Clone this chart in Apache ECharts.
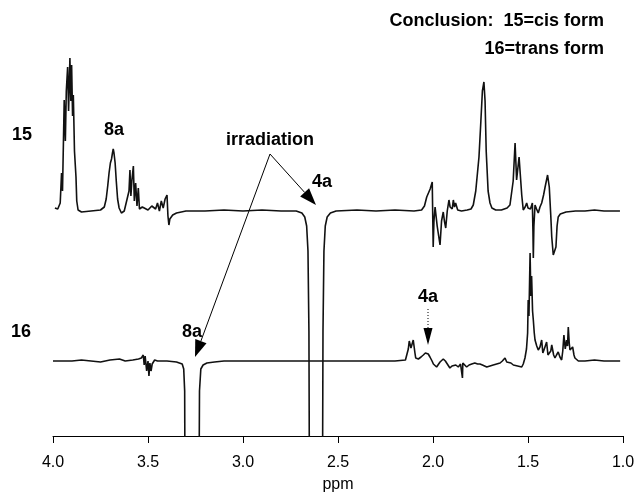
<!DOCTYPE html>
<html>
<head>
<meta charset="utf-8">
<script src="https://cdn.jsdelivr.net/npm/echarts@6/dist/echarts.min.js"></script>
<style>
  html, body { margin: 0; padding: 0; background: #fff; }
  #chart { width: 635px; height: 492px; }
</style>
</head>
<body>
<div id="chart"></div>
<script>
// x ticks (ppm)
const ppmTicks = [4.0, 3.5, 3.0, 2.5, 2.0, 1.5, 1.0]

// trace 15 (cis) : [ppm, intensity relative to its baseline]
const trace15 = [
  [3.99, 3], [3.975, 2], [3.962, 8], [3.955, 38], [3.950, 20], [3.945, 70], [3.941, 111],
  [3.935, 70], [3.930, 120], [3.923, 144], [3.918, 100], [3.911, 153], [3.906, 110],
  [3.902, 146], [3.897, 95], [3.893, 116], [3.887, 60], [3.879, 34], [3.875, 10], [3.868, 1],
  [3.85, -1], [3.80, 0], [3.75, 1], [3.73, 4], [3.72, 12], [3.712, 25], [3.705, 38],
  [3.698, 48], [3.692, 52], [3.687, 58], [3.683, 62], [3.679, 58], [3.673, 48], [3.667, 30],
  [3.66, 12], [3.652, 3], [3.64, -2], [3.625, 0], [3.61, 12],
  [3.60, 20], [3.595, 41], [3.59, 15], [3.585, 30], [3.577, 45], [3.572, 10], [3.565, 28],
  [3.558, 5], [3.551, 23], [3.545, 2], [3.53, 4], [3.50, 1], [3.48, 5], [3.46, 2], [3.45, 8],
  [3.44, 0], [3.43, 10], [3.42, 3], [3.41, 12], [3.40, 16], [3.395, -5], [3.39, -14],
  [3.385, -8], [3.38, -10], [3.37, -4], [3.35, -2], [3.30, 0], [3.2, 0], [3.1, 1], [3.0, 0],
  [2.9, 1], [2.8, 0], [2.72, 0], [2.69, -2], [2.675, -6], [2.665, -15], [2.658, -40],
  [2.653, -120], [2.650, -300], [2.582, -300], [2.579, -120], [2.574, -40], [2.567, -15],
  [2.557, -6], [2.54, -2], [2.51, 0], [2.40, 1], [2.30, 0], [2.20, 1], [2.10, 0], [2.06, 1],
  [2.045, 5], [2.033, 14], [2.015, 22], [2.004, 29], [2.001, -10], [1.999, -36], [1.995, -10],
  [1.989, 4], [1.978, -15], [1.963, -34], [1.955, -10], [1.946, -1], [1.94, -10], [1.933, -17],
  [1.925, 0], [1.916, 11], [1.91, 4], [1.905, 6], [1.899, 2], [1.893, 11], [1.887, 4],
  [1.881, 8], [1.87, 1], [1.85, 0], [1.82, 1], [1.80, 2], [1.788, 6], [1.775, 20], [1.765, 40],
  [1.758, 54], [1.748, 90], [1.740, 120], [1.732, 129], [1.726, 110], [1.720, 60], [1.717, 48],
  [1.710, 20], [1.700, 8], [1.69, 3], [1.67, 1], [1.64, 1], [1.61, 3], [1.595, 6], [1.586, 8],
  [1.578, 30], [1.568, 68], [1.560, 31], [1.547, 54], [1.540, 35], [1.533, 16], [1.525, 1],
  [1.515, 4], [1.507, 8], [1.500, 3], [1.495, 4], [1.487, 2], [1.477, 8], [1.474, -20],
  [1.472, -47], [1.469, -15], [1.463, 6], [1.455, 2], [1.446, -2], [1.437, 4], [1.428, 8],
  [1.418, 16], [1.411, 23], [1.397, 36], [1.388, 24], [1.380, -5], [1.375, -26], [1.367, -44],
  [1.360, -42], [1.353, -36], [1.347, -15], [1.341, -6], [1.330, -3], [1.323, -2], [1.30, -1],
  [1.25, 0], [1.20, 0], [1.15, 1], [1.10, 0], [1.05, 0], [1.016, 0]
]

// trace 16 (trans)
const trace16 = [
  [4.0, 0], [3.9, 0], [3.85, 1], [3.80, 0], [3.75, -1], [3.70, 1], [3.65, 2], [3.62, 0],
  [3.58, 1], [3.55, 2], [3.535, 3], [3.525, 6], [3.52, -4], [3.515, 5], [3.507, -10],
  [3.50, 0], [3.495, -15], [3.49, -2], [3.484, -10], [3.478, -3], [3.475, -4], [3.465, 1],
  [3.45, 0], [3.40, 0], [3.35, -1], [3.32, -3], [3.312, -8], [3.307, -30], [3.305, -150],
  [3.232, -150], [3.229, -30], [3.222, -8], [3.21, -4], [3.19, -2], [3.15, -1], [3.1, 0],
  [3.0, 0], [2.9, 0], [2.8, 0], [2.7, 0], [2.6, 0], [2.5, 0], [2.4, 0], [2.3, 0], [2.2, 0],
  [2.145, 1], [2.138, 1], [2.13, 12], [2.125, 20], [2.116, 13], [2.104, 21], [2.095, 8],
  [2.091, 3], [2.077, 2], [2.063, 4], [2.051, 6], [2.04, 8], [2.033, 9], [2.025, 7],
  [2.016, 4], [2.005, 0], [1.998, -3], [1.981, -6], [1.972, -4], [1.963, -1], [1.946, 2],
  [1.935, 0], [1.928, -2], [1.911, -7], [1.900, -5], [1.893, -5], [1.88, -4], [1.867, -6],
  [1.855, -3], [1.847, -2], [1.845, -17], [1.843, -2], [1.835, -4], [1.823, -6], [1.81, -4],
  [1.796, -3], [1.78, -2], [1.765, -3], [1.753, -3], [1.74, -4], [1.717, -6], [1.70, -5],
  [1.683, -4], [1.665, -3], [1.647, -2], [1.635, 0], [1.621, 3], [1.612, -1], [1.604, 0],
  [1.59, -2], [1.577, -4], [1.555, -5], [1.533, -6], [1.525, -3], [1.516, 3], [1.508, 12],
  [1.502, 28], [1.499, 61], [1.495, 45], [1.489, 108], [1.485, 65], [1.481, 85], [1.476, 50],
  [1.472, 41], [1.467, 28], [1.463, 21], [1.454, 15], [1.446, 11], [1.437, 14], [1.428, 21],
  [1.422, 8], [1.416, 11], [1.409, 12], [1.402, 19], [1.395, 6], [1.388, 8], [1.38, 10],
  [1.375, 16], [1.365, 6], [1.358, 3], [1.35, 6], [1.341, 9], [1.332, 4], [1.323, 1],
  [1.317, 10], [1.311, 26], [1.304, 12], [1.297, 21], [1.292, 15], [1.288, 34], [1.283, 18],
  [1.279, 11], [1.272, 12], [1.265, 14], [1.258, 6], [1.253, 3], [1.245, 2], [1.235, 0],
  [1.2, 0], [1.15, 1], [1.1, 0], [1.05, 0], [1.015, 0]
]

// vertical stacking of the two spectra
const offset15 = 225
const offset16 = 75

const FONT = '"Liberation Sans", Arial, sans-serif'

function shift(arr, off) {
  return arr.map(p => [p[0], p[1] + off])
}

// line + filled arrow head ending at (x2, y2)
function arrow(x1, y1, x2, y2, len, half) {
  const dx = x2 - x1, dy = y2 - y1
  const d = Math.sqrt(dx * dx + dy * dy)
  const ux = dx / d, uy = dy / d
  const bx = x2 - ux * len, by = y2 - uy * len
  return [
    { type: 'line', shape: { x1: x1, y1: y1, x2: bx, y2: by }, style: { stroke: '#000', lineWidth: 1 } },
    {
      type: 'polygon',
      shape: { points: [[x2, y2], [bx - uy * half, by + ux * half], [bx + uy * half, by - ux * half]] },
      style: { fill: '#000' }
    }
  ]
}

function label(txt, x, y, size, align) {
  return {
    type: 'text', x: x, y: y,
    style: {
      text: txt, font: 'bold ' + size + 'px ' + FONT, fill: '#000',
      textAlign: align || 'center', textVerticalAlign: 'middle',
      align: align || 'center', verticalAlign: 'middle'
    }
  }
}

const chart = echarts.init(document.getElementById('chart'))

chart.setOption({
  animation: false,
  backgroundColor: '#fff',
  grid: { left: 53, right: 12, top: 36, bottom: 56, containLabel: false, outerBoundsMode: 'none' },
  xAxis: {
    type: 'value',
    inverse: true,
    min: 1, max: 4, interval: 0.5,
    axisLine: { lineStyle: { color: '#000', width: 1 } },
    axisTick: { length: 7, lineStyle: { color: '#000' } },
    splitLine: { show: false },
    axisLabel: {
      color: '#000', fontSize: 16, fontFamily: FONT, margin: 19,
      formatter: v => ppmTicks.includes(v) ? v.toFixed(1) : ''
    },
    name: 'ppm',
    nameLocation: 'middle',
    nameGap: 41,
    nameTextStyle: { color: '#000', fontSize: 16, fontFamily: FONT }
  },
  yAxis: { type: 'value', min: 0, max: 400, show: false },
  series: [
    {
      name: '15', type: 'line', data: shift(trace15, offset15),
      showSymbol: false, clip: true,
      lineStyle: { color: '#111', width: 1.6 }
    },
    {
      name: '16', type: 'line', data: shift(trace16, offset16),
      showSymbol: false, clip: true,
      lineStyle: { color: '#111', width: 1.6 }
    }
  ],
  graphic: [
    label('15', 22, 135, 18),
    label('16', 21, 332, 18),
    label('8a', 114, 130, 18),
    label('irradiation', 270, 140, 18),
    label('4a', 322, 182, 18),
    label('8a', 192, 332, 18),
    label('4a', 428, 297, 18),
    label('Conclusion:  15=cis form', 604, 21, 18, 'right'),
    label('16=trans form', 604, 49, 18, 'right'),
    ...arrow(270, 154, 316, 205, 17, 6),
    ...arrow(270, 154, 195, 357, 17, 6),
    { type: 'line', shape: { x1: 428, y1: 309, x2: 428, y2: 328 }, style: { stroke: '#000', lineWidth: 1, lineDash: [1, 2] } },
    { type: 'polygon', shape: { points: [[428, 345], [423.5, 328], [432.5, 328]] }, style: { fill: '#000' } }
  ]
})
</script>
</body>
</html>
